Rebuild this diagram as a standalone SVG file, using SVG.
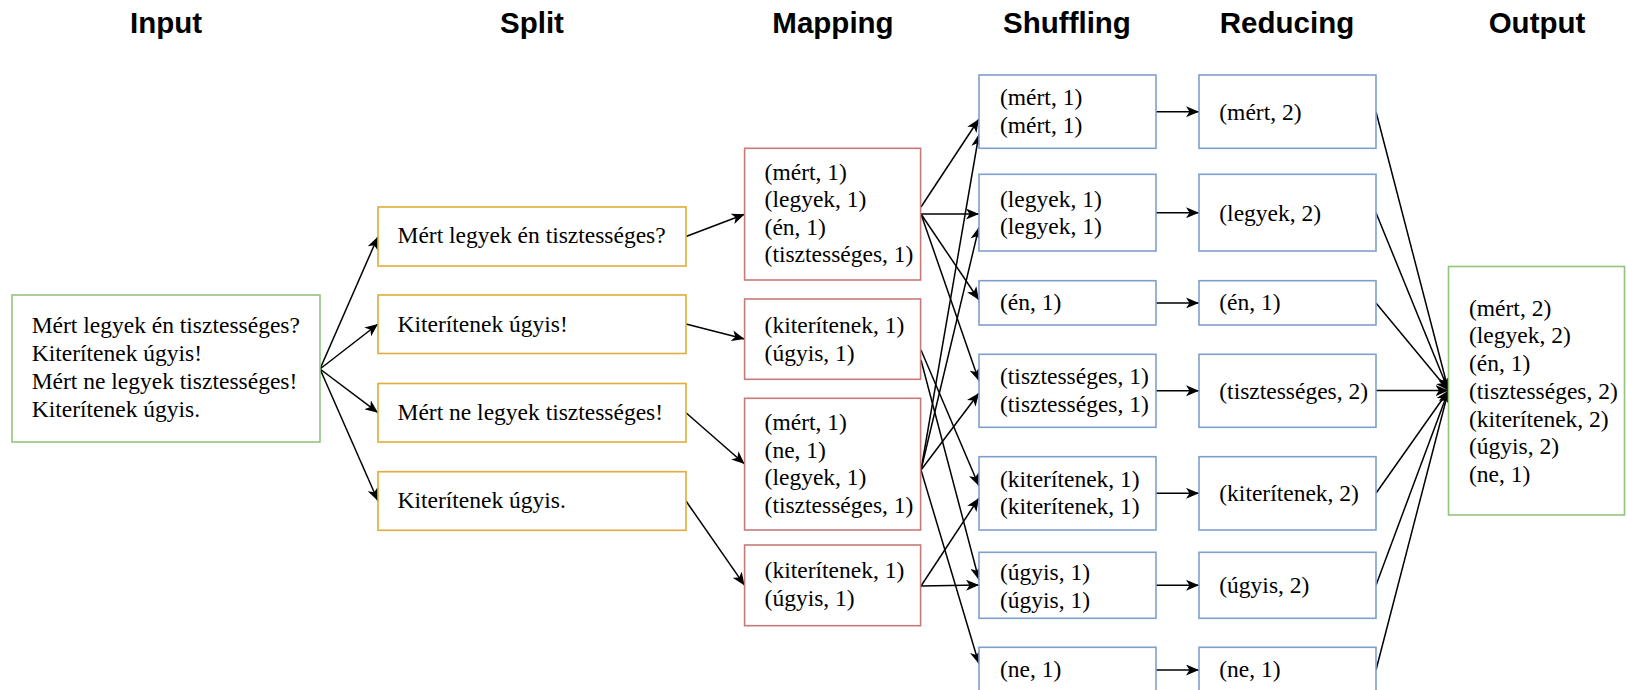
<svg xmlns="http://www.w3.org/2000/svg" width="1627" height="690" viewBox="0 0 1627 690">
<style>
.hdr{font-family:"Liberation Sans",Arial,sans-serif;font-weight:bold;font-size:29.5px;fill:#000;text-anchor:middle}
.t{font-family:"Liberation Serif","Times New Roman",serif;font-size:23.5px;fill:#000}
.box{fill:#fff;stroke-width:1.6}
.g{stroke:#93c47d}
.y{stroke:#e0ac3c}
.r{stroke:#c97a78}
.b{stroke:#7f9fcf}
.e{stroke:#000;stroke-width:1.5;fill:none;marker-end:url(#arr)}
</style>
<defs>
<marker id="arr" markerUnits="userSpaceOnUse" viewBox="0 0 13 11" refX="13" refY="5.5" markerWidth="13" markerHeight="11" orient="auto">
<path d="M0,0 L13,5.5 L0,11 L3.5,5.5 Z" fill="#000"/>
</marker>
</defs>
<g id="headers">
<text class="hdr" x="166" y="33">Input</text>
<text class="hdr" x="532" y="33">Split</text>
<text class="hdr" x="833" y="33">Mapping</text>
<text class="hdr" x="1067" y="33">Shuffling</text>
<text class="hdr" x="1287" y="33">Reducing</text>
<text class="hdr" x="1537" y="33">Output</text>
</g>
<g id="connectors">
<line class="e" x1="320" y1="369" x2="378" y2="236.5"/>
<line class="e" x1="320" y1="369" x2="378" y2="324"/>
<line class="e" x1="320" y1="369" x2="378" y2="412.7"/>
<line class="e" x1="320" y1="369" x2="378" y2="501"/>
<line class="e" x1="686" y1="236.5" x2="744.6" y2="214.2"/>
<line class="e" x1="686" y1="324" x2="744.6" y2="339"/>
<line class="e" x1="686" y1="412.7" x2="744.6" y2="464"/>
<line class="e" x1="686" y1="501" x2="744.6" y2="585.4"/>
<line class="e" x1="921" y1="207" x2="979" y2="119"/>
<line class="e" x1="921" y1="214" x2="979" y2="214"/>
<line class="e" x1="921" y1="214" x2="979" y2="300"/>
<line class="e" x1="921" y1="214" x2="979" y2="381"/>
<line class="e" x1="921" y1="350" x2="979" y2="486"/>
<line class="e" x1="921" y1="360" x2="979" y2="580"/>
<line class="e" x1="921" y1="470" x2="979" y2="134"/>
<line class="e" x1="921" y1="470" x2="979" y2="227"/>
<line class="e" x1="921" y1="470" x2="979" y2="393"/>
<line class="e" x1="921" y1="470" x2="979" y2="664"/>
<line class="e" x1="921" y1="586" x2="979" y2="498"/>
<line class="e" x1="921" y1="586" x2="979" y2="585"/>
<line class="e" x1="1156" y1="111.7" x2="1199" y2="111.7"/>
<line class="e" x1="1156" y1="212.7" x2="1199" y2="212.7"/>
<line class="e" x1="1156" y1="302.9" x2="1199" y2="302.9"/>
<line class="e" x1="1156" y1="390.8" x2="1199" y2="390.8"/>
<line class="e" x1="1156" y1="493.3" x2="1199" y2="493.3"/>
<line class="e" x1="1156" y1="585.3" x2="1199" y2="585.3"/>
<line class="e" x1="1156" y1="670" x2="1199" y2="670"/>
<line class="e" x1="1376" y1="111.7" x2="1448.5" y2="390.5"/>
<line class="e" x1="1376" y1="212.7" x2="1448.5" y2="390.5"/>
<line class="e" x1="1376" y1="302.9" x2="1448.5" y2="390.5"/>
<line class="e" x1="1376" y1="390.6" x2="1448.5" y2="390.6"/>
<line class="e" x1="1376" y1="493.3" x2="1448.5" y2="390.5"/>
<line class="e" x1="1376" y1="585.3" x2="1448.5" y2="390.5"/>
<line class="e" x1="1376" y1="670" x2="1448.5" y2="390.5"/>
</g>
<g id="input">
<rect class="box g" x="12" y="295" width="308" height="147"/>
<text class="t"><tspan x="31.7" y="333.3">Mért legyek én tisztességes?</tspan><tspan x="31.7" y="361.3">Kiterítenek úgyis!</tspan><tspan x="31.7" y="389.3">Mért ne legyek tisztességes!</tspan><tspan x="31.7" y="417.3">Kiterítenek úgyis.</tspan></text>
</g>
<g id="split1"><rect class="box y" x="378" y="207" width="308" height="59"/><text class="t" x="397.5" y="243.3">Mért legyek én tisztességes?</text></g>
<g id="split2"><rect class="box y" x="378" y="295" width="308" height="58.5"/><text class="t" x="397.5" y="331.5">Kiterítenek úgyis!</text></g>
<g id="split3"><rect class="box y" x="378" y="383.5" width="308" height="58.5"/><text class="t" x="397.5" y="419.5">Mért ne legyek tisztességes!</text></g>
<g id="split4"><rect class="box y" x="378" y="471.7" width="308" height="58.6"/><text class="t" x="397.5" y="508">Kiterítenek úgyis.</text></g>
<g id="map1"><rect class="box r" x="744.6" y="148.3" width="176" height="131.7"/>
<text class="t"><tspan x="764.6" y="180">(mért, 1)</tspan><tspan x="764.6" y="207">(legyek, 1)</tspan><tspan x="764.6" y="234.5">(én, 1)</tspan><tspan x="764.6" y="262">(tisztességes, 1)</tspan></text></g>
<g id="map2"><rect class="box r" x="744.6" y="299" width="176" height="80.3"/>
<text class="t"><tspan x="764.6" y="333.3">(kiterítenek, 1)</tspan><tspan x="764.6" y="360.8">(úgyis, 1)</tspan></text></g>
<g id="map3"><rect class="box r" x="744.6" y="398.3" width="176" height="131.7"/>
<text class="t"><tspan x="764.6" y="430">(mért, 1)</tspan><tspan x="764.6" y="457.5">(ne, 1)</tspan><tspan x="764.6" y="485">(legyek, 1)</tspan><tspan x="764.6" y="512.5">(tisztességes, 1)</tspan></text></g>
<g id="map4"><rect class="box r" x="744.6" y="545" width="176" height="80.7"/>
<text class="t"><tspan x="764.6" y="578.3">(kiterítenek, 1)</tspan><tspan x="764.6" y="606">(úgyis, 1)</tspan></text></g>
<g id="shuf1"><rect class="box b" x="979" y="75" width="177" height="73.3"/>
<text class="t"><tspan x="1000" y="105">(mért, 1)</tspan><tspan x="1000" y="132.7">(mért, 1)</tspan></text></g>
<g id="shuf2"><rect class="box b" x="979" y="174.3" width="177" height="76.7"/>
<text class="t"><tspan x="1000" y="206.7">(legyek, 1)</tspan><tspan x="1000" y="234.3">(legyek, 1)</tspan></text></g>
<g id="shuf3"><rect class="box b" x="979" y="280.7" width="177" height="44.3"/>
<text class="t" x="1000" y="310">(én, 1)</text></g>
<g id="shuf4"><rect class="box b" x="979" y="354.3" width="177" height="73"/>
<text class="t"><tspan x="1000" y="384">(tisztességes, 1)</tspan><tspan x="1000" y="412.3">(tisztességes, 1)</tspan></text></g>
<g id="shuf5"><rect class="box b" x="979" y="456.7" width="177" height="73.3"/>
<text class="t"><tspan x="1000" y="486.7">(kiterítenek, 1)</tspan><tspan x="1000" y="514.3">(kiterítenek, 1)</tspan></text></g>
<g id="shuf6"><rect class="box b" x="979" y="552.3" width="177" height="66"/>
<text class="t"><tspan x="1000" y="580">(úgyis, 1)</tspan><tspan x="1000" y="607.7">(úgyis, 1)</tspan></text></g>
<g id="shuf7"><rect class="box b" x="979" y="647.3" width="177" height="45.4"/>
<text class="t" x="1000" y="676.7">(ne, 1)</text></g>
<g id="red1"><rect class="box b" x="1199" y="75" width="177" height="73.3"/><text class="t" x="1219.3" y="120">(mért, 2)</text></g>
<g id="red2"><rect class="box b" x="1199" y="174.3" width="177" height="76.7"/><text class="t" x="1219.3" y="221">(legyek, 2)</text></g>
<g id="red3"><rect class="box b" x="1199" y="280.7" width="177" height="44.3"/><text class="t" x="1219.3" y="310">(én, 1)</text></g>
<g id="red4"><rect class="box b" x="1199" y="354.3" width="177" height="73"/><text class="t" x="1219.3" y="399.3">(tisztességes, 2)</text></g>
<g id="red5"><rect class="box b" x="1199" y="456.7" width="177" height="73.3"/><text class="t" x="1219.3" y="500.7">(kiterítenek, 2)</text></g>
<g id="red6"><rect class="box b" x="1199" y="552.3" width="177" height="66"/><text class="t" x="1219.3" y="593.3">(úgyis, 2)</text></g>
<g id="red7"><rect class="box b" x="1199" y="647.3" width="177" height="45.4"/><text class="t" x="1219.3" y="676.7">(ne, 1)</text></g>
<g id="output"><rect class="box g" x="1448.5" y="266.5" width="176" height="248.5"/>
<text class="t"><tspan x="1469" y="315.7">(mért, 2)</tspan><tspan x="1469" y="343.4">(legyek, 2)</tspan><tspan x="1469" y="371.1">(én, 1)</tspan><tspan x="1469" y="398.8">(tisztességes, 2)</tspan><tspan x="1469" y="426.5">(kiterítenek, 2)</tspan><tspan x="1469" y="454.2">(úgyis, 2)</tspan><tspan x="1469" y="481.9">(ne, 1)</tspan></text></g>
</svg>
